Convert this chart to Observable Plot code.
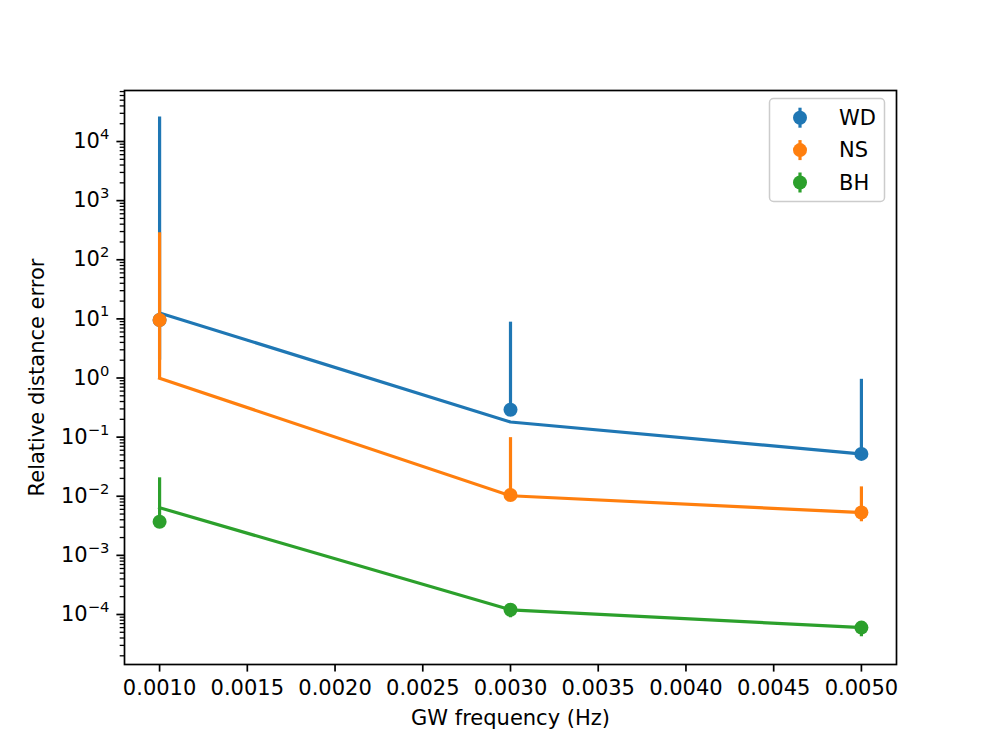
<!DOCTYPE html>
<html>
<head>
<meta charset="utf-8">
<script src="https://cdn.jsdelivr.net/npm/d3@7"></script>
<script src="https://cdn.jsdelivr.net/npm/@observablehq/plot@0.6"></script>
<style>
  body { margin: 0; background: #fff; }
  #wrap { position: relative; width: 996px; height: 747px; font-family: "DejaVu Sans", sans-serif; }
  #legend { position: absolute; left: 0; top: 0; pointer-events: none; }
</style>
</head>
<body>
<div id="wrap"></div>
<script>
// ---- data ----
const freqs = [0.001, 0.003, 0.005];
const seriesNames = ["WD", "NS", "BH"];
const seriesColors = ["#1f77b4", "#ff7f0e", "#2ca02c"];

const wdMedian = [9.6, 0.29, 0.052];
const wdLow    = [2.0, 0.25, 0.047];
const wdHigh   = [2.6e4, 8.8, 0.95];
const wdLine   = [12.6, 0.18, 0.052];

const nsMedian = [9.6, 0.0105, 0.0053];
const nsLow    = [0.97, 0.0095, 0.0037];
const nsHigh   = [285, 0.098, 0.0144];
const nsLine   = [0.99, 0.0102, 0.0053];

const bhMedian = [0.0037, 1.2e-4, 6.0e-5];
const bhLow    = [0.0034, 8.8e-5, 4.2e-5];
const bhHigh   = [0.0205, 1.4e-4, 7.2e-5];
const bhLine   = [0.0064, 1.2e-4, 6.0e-5];

const xTicks = [0.0010, 0.0015, 0.0020, 0.0025, 0.0030, 0.0035, 0.0040, 0.0045, 0.0050];
const yMajorExp = [-4, -3, -2, -1, 0, 1, 2, 3, 4];

const xLabel = "GW frequency (Hz)";
const yLabel = "Relative distance error";

// ---- build table ----
const medians = [wdMedian, nsMedian, bhMedian];
const lows = [wdLow, nsLow, bhLow];
const highs = [wdHigh, nsHigh, bhHigh];
const lineVals = [wdLine, nsLine, bhLine];
const rows = [];
seriesNames.forEach((s, i) => {
  freqs.forEach((f, j) => {
    rows.push({series: s, freq: f, median: medians[i][j], lo: lows[i][j], hi: highs[i][j], line: lineVals[i][j]});
  });
});

const yMajor = yMajorExp.map(e => Math.pow(10, e));
const yMinor = [];
for (let e = -5; e <= 4; e++) for (let m = 2; m <= 9; m++) yMinor.push(m * Math.pow(10, e));

const yDomain = [Math.pow(10, -4.846), Math.pow(10, 4.863)];
const yMinorIn = yMinor.filter(v => v >= yDomain[0] && v <= yDomain[1]);

const fmtExp = v => {
  const e = Math.round(Math.log10(v));
  return "10^" + (e < 0 ? "\u2212" + (-e) : String(e));
};

const seriesMarks = [];
seriesNames.forEach((s, i) => {
  const d = rows.filter(r => r.series === s);
  const c = seriesColors[i];
  seriesMarks.push(
    Plot.ruleX(d, {x: "freq", y1: "lo", y2: "hi", stroke: c, strokeWidth: 3.2}),
    Plot.dot(d, {x: "freq", y: "median", r: 7, fill: c, stroke: "none"}),
    Plot.line(d, {x: "freq", y: "line", stroke: c, strokeWidth: 3.2, strokeLinejoin: "round", strokeLinecap: "square"})
  );
});

const plot = Plot.plot({
  width: 996,
  height: 747,
  marginLeft: 124,
  marginRight: 100,
  marginTop: 90,
  marginBottom: 83,
  style: {fontFamily: "DejaVu Sans, sans-serif", fontSize: "21px", color: "black", background: "white"},
  x: {domain: [0.0008, 0.0052]},
  y: {type: "log", domain: yDomain},
  marks: [
    Plot.axisY({ticks: yMinorIn, tickSize: 4.3, strokeWidth: 1.3, tickFormat: () => "", label: null}),
    Plot.axisY({ticks: yMajor, tickSize: 7.6, strokeWidth: 1.7, tickPadding: 7.6, tickFormat: fmtExp, label: null}),
    Plot.axisX({ticks: xTicks, tickSize: 7.6, strokeWidth: 1.7, tickPadding: 7.6, tickFormat: d3.format(".4f"), label: null}),
    Plot.text([yLabel], {text: d => d, frameAnchor: "left", rotate: -90, dx: -87, textAnchor: "middle", lineAnchor: "middle", fill: "black"}),
    Plot.text([xLabel], {text: d => d, frameAnchor: "bottom", dy: 54, textAnchor: "middle", lineAnchor: "middle", fill: "black"}),
    ...seriesMarks,
    Plot.frame({stroke: "black", strokeWidth: 1.7})
  ]
});

document.getElementById("wrap").appendChild(plot);

// superscript exponents on the y tick labels
d3.select(plot).selectAll('g[aria-label="y-axis tick label"] text').each(function () {
  const el = this;
  const t = el.textContent;
  if (!t.includes("^")) return;
  const [base, exp] = t.split("^");
  while (el.firstChild) el.removeChild(el.firstChild);
  const ns = "http://www.w3.org/2000/svg";
  const t1 = document.createElementNS(ns, "tspan");
  t1.textContent = base;
  const t2 = document.createElementNS(ns, "tspan");
  t2.textContent = exp;
  t2.setAttribute("font-size", "0.7em");
  t2.setAttribute("dy", "-0.62em");
  el.appendChild(t1);
  el.appendChild(t2);
});

// legend overlay (inside axes, upper right)
const leg = d3.select("#wrap").append("svg").attr("id", "legend").attr("width", 996).attr("height", 747);
leg.append("rect").attr("x", 769.5).attr("y", 98.5).attr("width", 115).attr("height", 103).attr("rx", 4)
  .attr("fill", "white").attr("fill-opacity", 0.8).attr("stroke", "#cccccc").attr("stroke-width", 1.5);
seriesNames.forEach((s, i) => {
  const cy = 117.7 + i * 32.4;
  const g = leg.append("g");
  g.append("line").attr("x1", 800).attr("x2", 800).attr("y1", cy - 10).attr("y2", cy + 10)
    .attr("stroke", seriesColors[i]).attr("stroke-width", 3.2);
  g.append("circle").attr("cx", 800).attr("cy", cy).attr("r", 7).attr("fill", seriesColors[i]);
  g.append("text").attr("x", 839).attr("y", cy).attr("dy", "0.35em")
    .attr("font-family", "DejaVu Sans, sans-serif").attr("font-size", 21).attr("fill", "black").text(s);
});
</script>
</body>
</html>
